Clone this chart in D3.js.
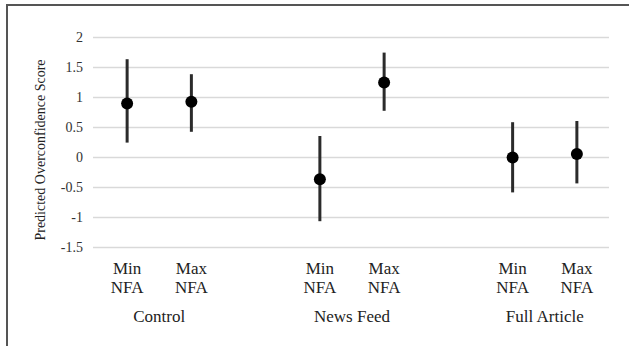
<!DOCTYPE html>
<html><head><meta charset="utf-8">
<script src="https://cdn.jsdelivr.net/npm/d3@7"></script>
<style>body{margin:0;background:#fff}svg{display:block}text{font-family:"Liberation Serif","Times New Roman",serif}</style>
</head><body>
<script>
const slots = ["c-min","c-max","gap1","n-min","n-max","gap2","f-min","f-max"];
const categories = ["c-min","c-max","n-min","n-max","f-min","f-max"];
const catLine1 = ["Min","Max","Min","Max","Min","Max"];
const catLine2 = ["NFA","NFA","NFA","NFA","NFA","NFA"];
const groups = ["Control","News Feed","Full Article"];
const groupCats = [["c-min","c-max"],["n-min","n-max"],["f-min","f-max"]];
const estimates = [0.89, 0.92, -0.37, 1.24, -0.01, 0.05];
const lower = [0.24, 0.42, -1.07, 0.77, -0.59, -0.44];
const upper = [1.63, 1.38, 0.35, 1.74, 0.58, 0.60];
const yTicks = [2,1.5,1,0.5,0,-0.5,-1,-1.5];
const yTickLabels = ["2","1.5","1","0.5","0","-0.5","-1","-1.5"];
const yTitle = "Predicted Overconfidence Score";

const W=629,H=346;
const svg=d3.select("body").append("svg").attr("width",W).attr("height",H);
svg.append("rect").attr("width",W).attr("height",H).attr("fill","#fff");
svg.append("path").attr("d",`M7,${H} V5 H${W}`).attr("fill","none").attr("stroke","#555").attr("stroke-width",2);

const x=d3.scaleBand().domain(slots).range([95,609]);
const y=d3.scaleLinear().domain([-1.5,2]).range([247,37]);
const font='"Liberation Serif","Times New Roman",serif';

const yAxis=d3.axisLeft(y).tickValues(yTicks).tickFormat((d,i)=>yTickLabels[i]).tickSize(-(609-93)).tickPadding(10);
const gy=svg.append("g").attr("transform","translate(93,0)").call(yAxis);
gy.attr("font-family",null);
gy.select(".domain").remove();
gy.selectAll(".tick line").attr("stroke","#d9d9d9").attr("stroke-width",1.3);
gy.selectAll(".tick text").style("font-family",font).style("font-size","14px").attr("fill","#333");

svg.append("text").attr("transform",`translate(45,150) rotate(-90)`).attr("text-anchor","middle")
  .style("font-family",font).style("font-size","14px").attr("fill","#222").text(yTitle);

const cx=d=>x(d)+x.bandwidth()/2;
const g=svg.append("g");
categories.forEach((c,i)=>{
  g.append("line").attr("x1",cx(c)).attr("x2",cx(c)).attr("y1",y(lower[i])).attr("y2",y(upper[i]))
    .attr("stroke","#2b2b2b").attr("stroke-width",3);
  g.append("circle").attr("cx",cx(c)).attr("cy",y(estimates[i])).attr("r",6).attr("fill","#000");
  g.append("text").attr("x",cx(c)).attr("y",274).attr("text-anchor","middle")
    .style("font-family",font).style("font-size","17px").attr("fill","#222").text(catLine1[i]);
  g.append("text").attr("x",cx(c)).attr("y",293).attr("text-anchor","middle")
    .style("font-family",font).style("font-size","17px").attr("fill","#222").text(catLine2[i]);
});
groups.forEach((gname,i)=>{
  const [a,b]=groupCats[i];
  g.append("text").attr("x",(cx(a)+cx(b))/2).attr("y",322).attr("text-anchor","middle")
    .style("font-family",font).style("font-size","17px").attr("fill","#222").text(gname);
});
</script>
</body></html>
